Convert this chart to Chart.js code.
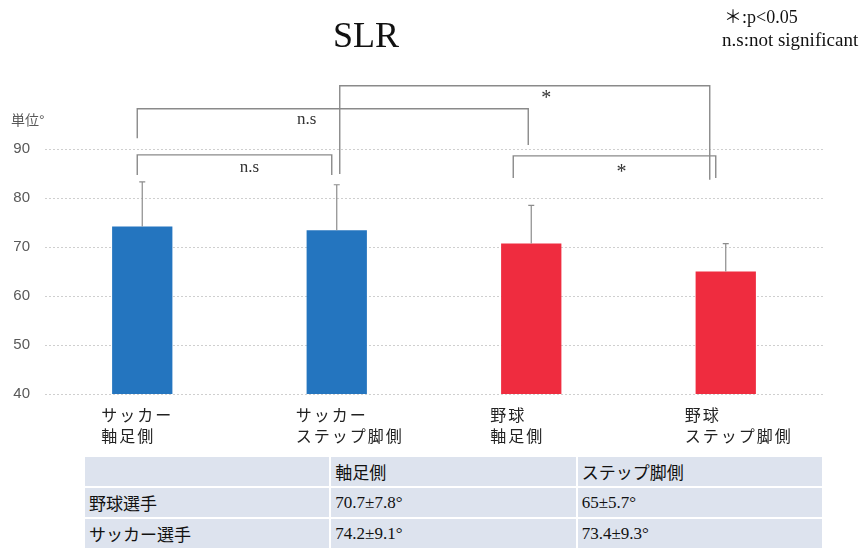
<!DOCTYPE html>
<html>
<head>
<meta charset="utf-8">
<script src="https://cdn.jsdelivr.net/npm/chart.js@4.4.1/dist/chart.umd.min.js"></script>
<style>
  body { margin: 0; background: #fff; width: 863px; height: 549px; overflow: hidden; position: relative; }
  #wrap { position: absolute; left: 0; top: 0; width: 863px; height: 452px; }
  #stats {
    position: absolute; left: 83px; top: 455px; width: 741px;
    border-collapse: collapse; table-layout: fixed;
    font-family: "Liberation Serif", "Noto Sans CJK JP", serif; font-size: 17px; color: #111;
  }
  #stats td { background: #dde3ee; border: 2px solid #fff; height: 29px; padding: 0 0 0 4px; }
</style>
</head>
<body>
<div id="wrap"><canvas id="slr-chart" width="863" height="452"></canvas></div>
<table id="stats"></table>

<script>
// chart data
const categories = [["サッカー", "軸足側"], ["サッカー", "ステップ脚側"], ["野球", "軸足側"], ["野球", "ステップ脚側"]];
const means = [74.2, 73.4, 70.7, 65];
const sds = [9.1, 9.3, 7.8, 5.7];
const barColors = ["#2475bf", "#2475bf", "#ef2c3f", "#ef2c3f"];
const yMin = 40;
const yMax = 90;
const yStep = 10;

// table rows: label + index into means/sds
const tableHeader = ["", "軸足側", "ステップ脚側"];
const tableRows = [
  { name: "野球選手", idx: [2, 3] },
  { name: "サッカー選手", idx: [0, 1] }
];

// significance brackets (from/to bar index, heights in axis units)
const brackets = [
  { from: 0, to: 1, top: 88.8, dropL: 84.7, dropR: 84.7, dxL: -5, dxR: -5, text: "n.s", tdx: 10, tv: 86.3 },
  { from: 0, to: 2, top: 98.2, dropL: 92.2, dropR: 90.8, dxL: -5, dxR: -3, text: "n.s", tdx: -30, tv: 96.1 },
  { from: 1, to: 3, top: 102.9, dropL: 84.9, dropR: 83.7, dxL: 3, dxR: -16, text: "*", tdx: 15, tv: 100.2 },
  { from: 2, to: 3, top: 88.6, dropL: 84.1, dropR: 84.1, dxL: -18, dxR: -10, text: "*", tdx: -7, tv: 85.1 }
];

const serif = '"Liberation Serif", "Noto Sans CJK JP", serif';
const sans = '"Liberation Sans", "Noto Sans CJK JP", sans-serif';

// table
const table = document.getElementById("stats");
const head = document.createElement("tr");
tableHeader.forEach(h => {
  const td = document.createElement("td");
  td.textContent = h;
  head.appendChild(td);
});
table.appendChild(head);
tableRows.forEach(r => {
  const tr = document.createElement("tr");
  const first = document.createElement("td");
  first.textContent = r.name;
  tr.appendChild(first);
  r.idx.forEach(i => {
    const td = document.createElement("td");
    td.textContent = `${means[i]}±${sds[i]}°`;
    tr.appendChild(td);
  });
  table.appendChild(tr);
});

// extra drawing: error bars, brackets, labels
const extrasPlugin = {
  id: "extras",
  afterDatasetsDraw(chart) {
    const ctx = chart.ctx;
    const x = chart.scales.x;
    const y = chart.scales.y;
    ctx.save();

    // error bars (upper only)
    ctx.strokeStyle = "#8c8c8c";
    ctx.lineWidth = 1.2;
    means.forEach((m, i) => {
      const px = x.getPixelForValue(i);
      const top = y.getPixelForValue(m + sds[i]);
      ctx.beginPath();
      ctx.moveTo(px, y.getPixelForValue(m));
      ctx.lineTo(px, top);
      ctx.moveTo(px - 3, top);
      ctx.lineTo(px + 3, top);
      ctx.stroke();
    });

    // brackets
    ctx.strokeStyle = "#8a8a8a";
    ctx.lineWidth = 1.4;
    ctx.fillStyle = "#333";
    ctx.textAlign = "center";
    ctx.textBaseline = "middle";
    brackets.forEach(b => {
      const xl = x.getPixelForValue(b.from) + b.dxL;
      const xr = x.getPixelForValue(b.to) + b.dxR;
      const yt = y.getPixelForValue(b.top);
      ctx.beginPath();
      ctx.moveTo(xl, y.getPixelForValue(b.dropL));
      ctx.lineTo(xl, yt);
      ctx.lineTo(xr, yt);
      ctx.lineTo(xr, y.getPixelForValue(b.dropR));
      ctx.stroke();
      ctx.font = b.text === "*" ? `20px ${serif}` : `17px ${serif}`;
      const mid = (x.getPixelForValue(b.from) + x.getPixelForValue(b.to)) / 2;
      ctx.fillText(b.text, mid + b.tdx, y.getPixelForValue(b.tv));
    });

    // category labels, two lines, left aligned
    ctx.fillStyle = "#222";
    ctx.textAlign = "left";
    ctx.font = `16px ${serif}`;
    ctx.letterSpacing = "2px";
    categories.forEach((lines, i) => {
      const px = x.getPixelForValue(i) - 41;
      lines.forEach((t, k) => ctx.fillText(t, px, chart.chartArea.bottom + 23 + k * 21));
    });
    ctx.letterSpacing = "0px";

    // title
    ctx.fillStyle = "#111";
    ctx.textAlign = "center";
    ctx.font = `36px ${serif}`;
    ctx.fillText("SLR", 366, 38);

    // note
    ctx.textAlign = "left";
    ctx.font = `18px ${serif}`;
    ctx.fillText("＊:p<0.05", 724, 18);
    ctx.font = `19px ${serif}`;
    ctx.fillText("n.s:not significant", 722, 41);

    // unit label
    ctx.fillStyle = "#595959";
    ctx.font = `14px ${sans}`;
    ctx.fillText("単位°", 11, 121);

    ctx.restore();
  }
};

new Chart(document.getElementById("slr-chart"), {
  type: "bar",
  data: {
    labels: categories,
    datasets: [{
      data: means,
      backgroundColor: barColors,
      borderWidth: 0,
      barPercentage: 0.31,
      categoryPercentage: 1
    }]
  },
  options: {
    responsive: false,
    animation: false,
    layout: { padding: { top: 149, bottom: 58, right: 40, left: 0 } },
    plugins: {
      legend: { display: false },
      title: { display: false },
      tooltip: { enabled: false }
    },
    scales: {
      x: {
        display: false
      },
      y: {
        min: yMin,
        max: yMax,
        afterFit(scale) { scale.width = 45; },
        ticks: {
          stepSize: yStep,
          padding: 15,
          color: "#595959",
          font: { family: sans, size: 15 }
        },
        border: { display: false, dash: [2, 2] },
        grid: {
          color: "#cfcfcf",
          lineWidth: 1,
          drawTicks: false
        }
      }
    }
  },
  plugins: [extrasPlugin]
});
</script>
</body>
</html>
